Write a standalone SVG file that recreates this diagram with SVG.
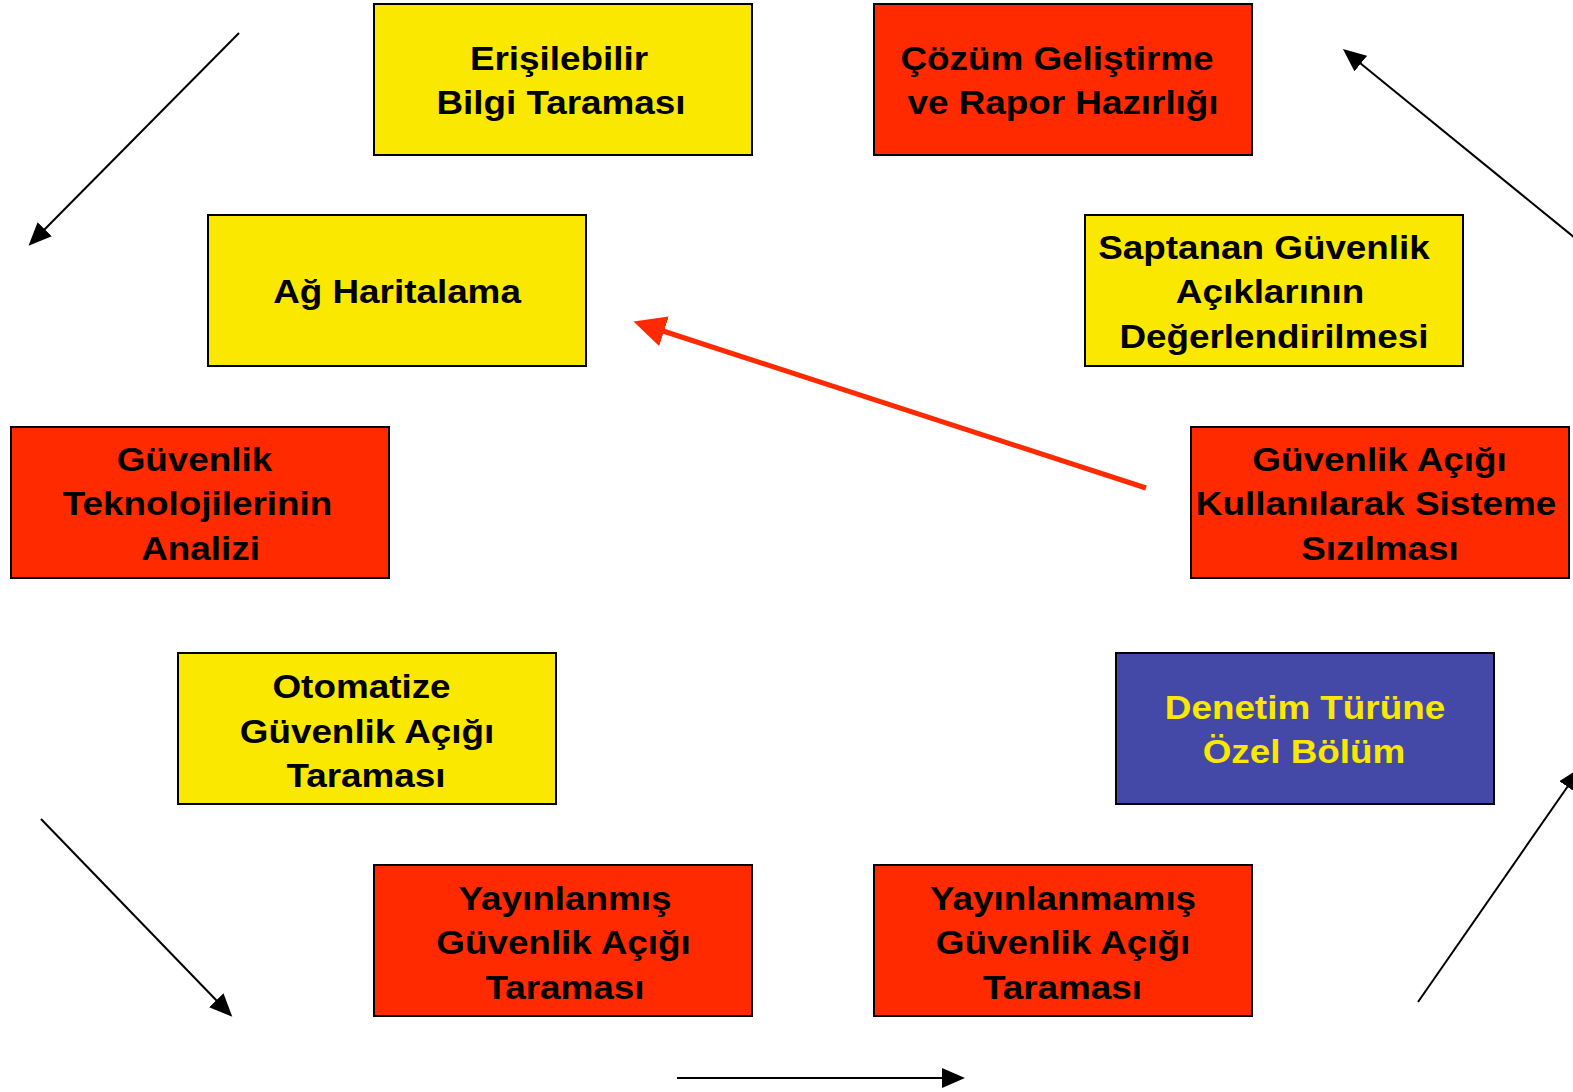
<svg xmlns="http://www.w3.org/2000/svg" width="1573" height="1092" viewBox="0 0 1573 1092">
<style>
.box{stroke:#000;stroke-width:2}
.y{fill:#FAE800}
.r{fill:#FF2A00}
.b{fill:#4449A8}
.t{font-family:"Liberation Sans",Arial,sans-serif;font-weight:bold;font-size:33.5px;text-anchor:middle;fill:#000}
.ty{fill:#FAE800}
.c{stroke:#000;stroke-width:2;fill:none;marker-end:url(#ah)}
.cr{stroke:#FF2A00;stroke-width:5;fill:none;marker-end:url(#ahr)}
</style>
<defs>
<marker id="ah" markerUnits="userSpaceOnUse" markerWidth="23" markerHeight="20" viewBox="0 0 23 20" refX="1" refY="10" orient="auto">
<path d="M0,0 L23,10 L0,20 z" fill="#000"/>
</marker>
<marker id="ahr" markerUnits="userSpaceOnUse" markerWidth="32" markerHeight="31" viewBox="0 0 32 31" refX="1" refY="15.5" orient="auto">
<path d="M0,0 L32,15.5 L0,31 z" fill="#FF2A00"/>
</marker>
</defs>
<rect width="1573" height="1092" fill="#fff"/>

<g id="n1">
<rect class="box y" x="374" y="4" width="378" height="151"/>
<text class="t" transform="translate(559,69.5) scale(1.1,1)">Erişilebilir</text>
<text class="t" transform="translate(561,114) scale(1.1,1)">Bilgi Taraması</text>
</g>
<g id="n2">
<rect class="box r" x="874" y="4" width="378" height="151"/>
<text class="t" transform="translate(1057,69.5) scale(1.1,1)">Çözüm Geliştirme</text>
<text class="t" transform="translate(1063,114) scale(1.1,1)">ve Rapor Hazırlığı</text>
</g>
<g id="n3">
<rect class="box y" x="208" y="215" width="378" height="151"/>
<text class="t" transform="translate(397,302.5) scale(1.1,1)">Ağ Haritalama</text>
</g>
<g id="n4">
<rect class="box y" x="1085" y="215" width="378" height="151"/>
<text class="t" transform="translate(1264,258.5) scale(1.1,1)">Saptanan Güvenlik</text>
<text class="t" transform="translate(1270,303) scale(1.1,1)">Açıklarının</text>
<text class="t" transform="translate(1274,347.5) scale(1.1,1)">Değerlendirilmesi</text>
</g>
<g id="n5">
<rect class="box r" x="11" y="427" width="378" height="151"/>
<text class="t" transform="translate(194.5,470.5) scale(1.1,1)">Güvenlik</text>
<text class="t" transform="translate(197.5,515) scale(1.1,1)">Teknolojilerinin</text>
<text class="t" transform="translate(200.5,559.5) scale(1.1,1)">Analizi</text>
</g>
<g id="n6">
<rect class="box r" x="1191" y="427" width="378" height="151"/>
<text class="t" transform="translate(1379.5,470.5) scale(1.1,1)">Güvenlik Açığı</text>
<text class="t" transform="translate(1376,515) scale(1.1,1)">Kullanılarak Sisteme</text>
<text class="t" transform="translate(1380,559.5) scale(1.1,1)">Sızılması</text>
</g>
<g id="n7">
<rect class="box y" x="178" y="653" width="378" height="151"/>
<text class="t" transform="translate(361.5,698) scale(1.1,1)">Otomatize</text>
<text class="t" transform="translate(367,742.5) scale(1.1,1)">Güvenlik Açığı</text>
<text class="t" transform="translate(366,787) scale(1.1,1)">Taraması</text>
</g>
<g id="n8">
<rect class="box b" x="1116" y="653" width="378" height="151"/>
<text class="t ty" transform="translate(1305,718.5) scale(1.1,1)">Denetim Türüne</text>
<text class="t ty" transform="translate(1304,763) scale(1.1,1)">Özel Bölüm</text>
</g>
<g id="n9">
<rect class="box r" x="374" y="865" width="378" height="151"/>
<text class="t" transform="translate(565,909.5) scale(1.1,1)">Yayınlanmış</text>
<text class="t" transform="translate(563.5,954) scale(1.1,1)">Güvenlik Açığı</text>
<text class="t" transform="translate(565,998.5) scale(1.1,1)">Taraması</text>
</g>
<g id="n10">
<rect class="box r" x="874" y="865" width="378" height="151"/>
<text class="t" transform="translate(1063,909.5) scale(1.1,1)">Yayınlanmamış</text>
<text class="t" transform="translate(1063,954) scale(1.1,1)">Güvenlik Açığı</text>
<text class="t" transform="translate(1062.5,998.5) scale(1.1,1)">Taraması</text>
</g>

<g id="connectors">
<line class="c" x1="239" y1="33" x2="44" y2="230"/>
<line class="c" x1="1575" y1="238" x2="1360" y2="63"/>
<line class="c" x1="41" y1="819" x2="217" y2="1001"/>
<line class="c" x1="677" y1="1078" x2="943" y2="1078"/>
<line class="c" x1="1418" y1="1002" x2="1568" y2="786"/>
<line class="cr" x1="1146" y1="488" x2="663" y2="331"/>
</g>
</svg>
